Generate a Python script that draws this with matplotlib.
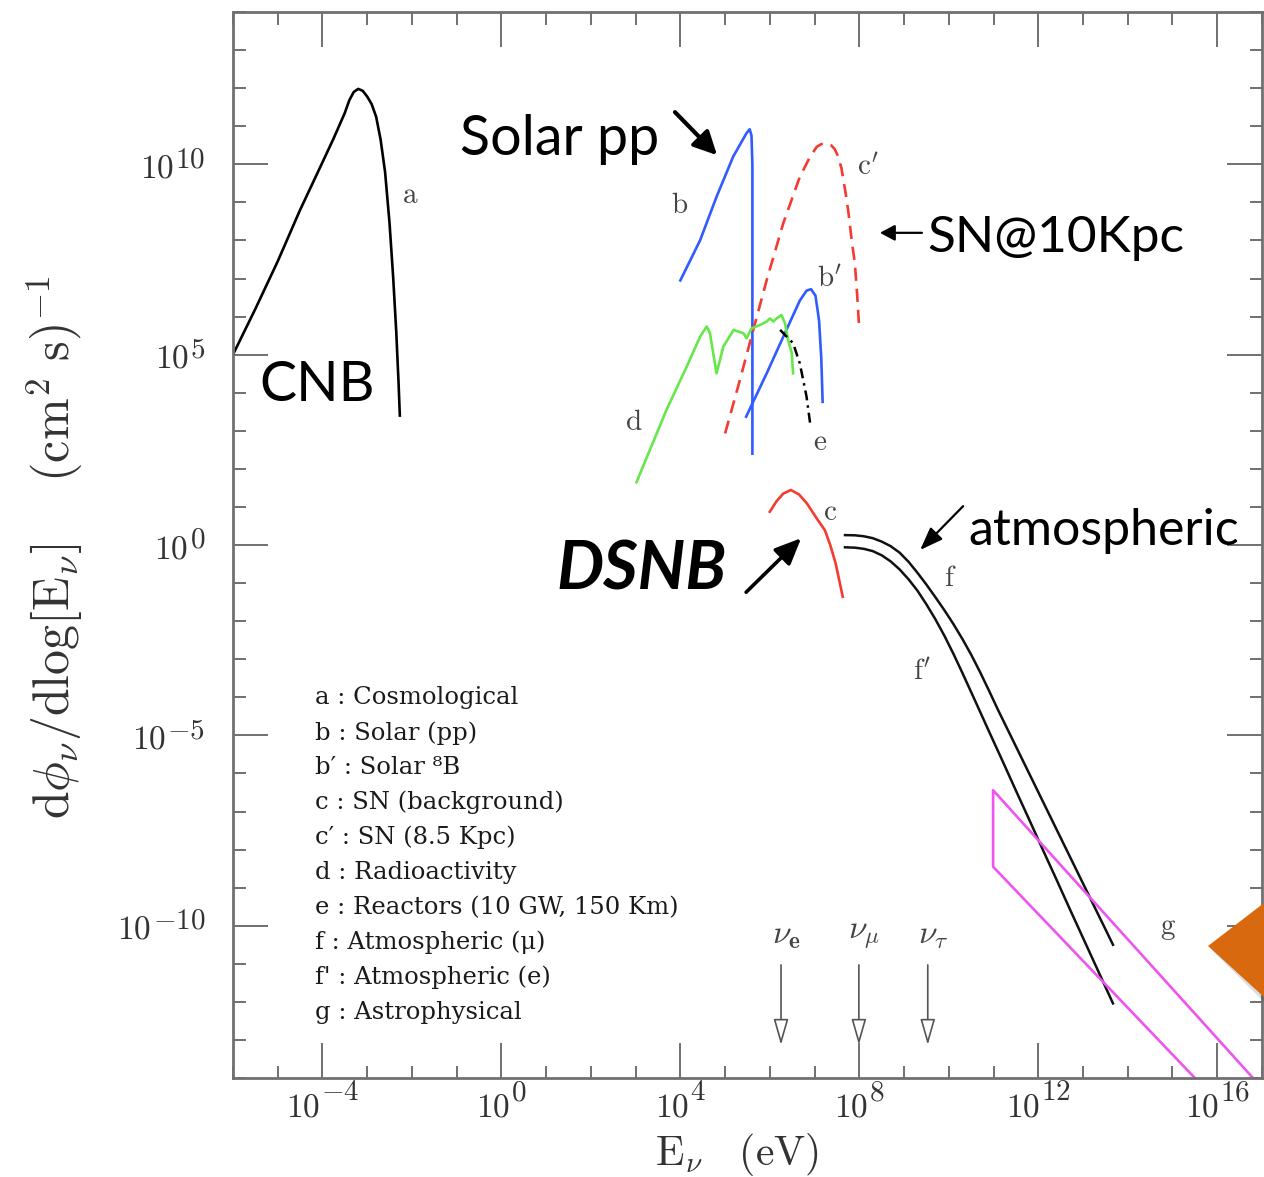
import numpy as np
import matplotlib.pyplot as plt
from matplotlib.patches import Polygon

plt.rcParams['mathtext.fontset'] = 'cm'

# spectra, as log10(E / eV) and log10(flux)
cnb_logE = [-6.0, -5.5, -5.0, -4.5, -4.0, -3.75, -3.5, -3.4, -3.3, -3.2, -3.1, -3.0, -2.9,
            -2.8, -2.7, -2.6, -2.5, -2.42, -2.35, -2.3, -2.27]
cnb_logF = [5.0, 6.2, 7.45, 8.8, 10.05, 10.68, 11.35, 11.68, 11.9, 11.98, 11.93, 11.78, 11.58,
            11.25, 10.65, 9.8, 8.45, 7.05, 5.6, 4.3, 3.4]

pp_logE = [4.0, 4.44, 4.81, 5.18, 5.48, 5.55, 5.59, 5.61, 5.61]
pp_logF = [6.95, 8.0, 9.15, 10.2, 10.82, 10.92, 10.75, 10.0, 2.4]

b8_logE = [5.47, 5.93, 6.37, 6.67, 6.82, 6.92, 7.02, 7.1, 7.15, 7.18]
b8_logF = [3.37, 4.51, 5.65, 6.42, 6.68, 6.72, 6.55, 5.9, 4.9, 3.76]

sn_logE = [5.0, 5.33, 5.63, 5.93, 6.3, 6.67, 6.9, 7.05, 7.15, 7.27, 7.37, 7.45, 7.52, 7.6,
           7.7, 7.76, 7.83, 7.9, 7.95, 8.0]
sn_logF = [2.93, 4.33, 5.65, 6.96, 8.45, 9.67, 10.2, 10.46, 10.53, 10.54, 10.5, 10.4, 10.22,
           9.9, 9.2, 8.71, 8.0, 7.4, 6.6, 5.65]

dsnb_logE = [6.0, 6.15, 6.3, 6.47, 6.65, 6.83, 7.07, 7.23, 7.35, 7.47, 7.63]
dsnb_logF = [0.875, 1.15, 1.35, 1.445, 1.33, 1.09, 0.66, 0.39, 0.0, -0.48, -1.36]

radio_logE = [3.02, 3.69, 4.14, 4.44, 4.59, 4.66, 4.74, 4.81, 4.96, 5.19, 5.41, 5.48,
              5.59, 5.78, 5.93, 6.0, 6.08, 6.15, 6.26, 6.34, 6.41, 6.49, 6.52]
radio_logF = [1.65, 3.55, 4.68, 5.47, 5.74, 5.57, 5.0, 4.51, 5.21, 5.65, 5.56, 5.43,
              5.69, 5.78, 5.87, 5.95, 5.87, 5.95, 6.04, 5.82, 5.38, 5.04, 4.51]

reac_logE = [6.23, 6.52, 6.67, 6.82, 6.9]
reac_logF = [5.65, 5.3, 4.77, 3.9, 3.2]

atm_mu_logE = [7.68, 7.9, 8.1, 8.3, 8.5, 8.7, 8.9, 9.1, 9.3, 9.5, 9.7, 9.9, 10.1, 10.3,
               10.5, 10.7, 10.9, 11.1, 11.4, 11.7, 12.0, 12.3, 12.6, 12.9, 13.2, 13.45, 13.67]
atm_mu_logF = [0.26, 0.255, 0.23, 0.18, 0.09, -0.03, -0.2, -0.44, -0.73, -1.04, -1.37, -1.71,
               -2.07, -2.46, -2.88, -3.34, -3.83, -4.33, -5.05, -5.77, -6.49, -7.21, -7.93,
               -8.65, -9.37, -9.97, -10.5]
atm_e_logE = [7.68, 7.9, 8.1, 8.3, 8.5, 8.7, 8.9, 9.1, 9.3, 9.5, 9.7, 9.9, 10.1, 10.3,
              10.58, 10.9, 11.2, 11.5, 11.8, 12.1, 12.4, 12.7, 13.0, 13.3, 13.67]
atm_e_logF = [-0.06, -0.07, -0.1, -0.16, -0.27, -0.43, -0.64, -0.9, -1.2, -1.56, -1.95, -2.38,
              -2.85, -3.35, -4.07, -4.9, -5.67, -6.45, -7.22, -8.0, -8.77, -9.55, -10.32,
              -11.09, -12.04]

astro_logE = [15.5, 10.99, 10.99, 16.8]
astro_logF = [-14.0, -8.45, -6.44, -14.0]

# detection thresholds (log10 E)
thr_logE = [6.25, 7.99, 9.53]
thr_names = [r'$\nu_\mathbf{e}$', r'$\nu_\mu$', r'$\nu_\tau$']

legend_lines = ['a : Cosmological', 'b : Solar (pp)', 'b\u2032 : Solar \u2078B',
                'c : SN (background)', 'c\u2032 : SN (8.5 Kpc)', 'd : Radioactivity',
                'e : Reactors (10 GW, 150 Km)', 'f : Atmospheric (\u03bc)',
                "f' : Atmospheric (e)", 'g : Astrophysical']

y_major = [-10, -5, 0, 5, 10]
x_major = [-4, 0, 4, 8, 12, 16]

grey = '#707070'
txt = '#333333'

fig = plt.figure(figsize=(12.64, 11.77), dpi=100)
ax = fig.add_axes([0.1843, 0.0841, 0.8141, 0.9057])
ax.set_xscale('log')
ax.set_yscale('log')


def curve(logE, logF, **kw):
    ax.plot(10.0 ** np.array(logE), 10.0 ** np.array(logF), **kw)


lw = 1.9
curve(cnb_logE, cnb_logF, color='k', lw=lw)
curve(pp_logE, pp_logF, color='#2f5bff', lw=lw)
curve(b8_logE, b8_logF, color='#2f5bff', lw=lw)
curve(sn_logE, sn_logF, color='#f43b30', lw=lw, ls=(0, (5, 3)))
curve(dsnb_logE, dsnb_logF, color='#f43b30', lw=lw)
curve(radio_logE, radio_logF, color='#66e84a', lw=lw)
curve(reac_logE, reac_logF, color='k', lw=1.8, ls=(0, (4, 2, 1, 2)))
curve(atm_mu_logE, atm_mu_logF, color='#111111', lw=1.8)
curve(atm_e_logE, atm_e_logF, color='#111111', lw=1.8)
curve(astro_logE, astro_logF, color='#ee55ee', lw=lw)

ax.set_xlim(1e-6, 1e17)
ax.set_ylim(1e-14, 1e14)
ax.set_xticks(10.0 ** np.array(x_major))
ax.set_xticks(10.0 ** np.arange(-6, 18), minor=True)
ax.set_yticks(10.0 ** np.array(y_major))
ax.set_yticks(10.0 ** np.arange(-14, 15), minor=True)
ax.tick_params(which='both', direction='in', top=True, right=True, color=grey,
               labelbottom=False, labelleft=False)
ax.tick_params(which='major', length=25, width=1.4)
ax.tick_params(which='minor', length=9, width=1.4)
for sp in ax.spines.values():
    sp.set_color(grey)
    sp.set_linewidth(2)

# tick labels: "10" plus a large exponent, as in the original
fig.canvas.draw()
rend = fig.canvas.get_renderer()


def wpt(t):
    return t.get_window_extent(rend).width * 72 / fig.dpi


for e in y_major:
    s = ax.annotate(f'${e}$', (0, 10.0 ** e), xycoords=('axes fraction', 'data'),
                    xytext=(-20, -2), textcoords='offset points', ha='right',
                    va='baseline', fontsize=21, color=txt)
    ax.annotate('$10$', (0, 10.0 ** e), xycoords=('axes fraction', 'data'),
                xytext=(-21 - wpt(s), -9.5), textcoords='offset points', ha='right',
                va='baseline', fontsize=24, color=txt)

for e in x_major:
    b = ax.annotate('$10$', (10.0 ** e, 0), xycoords=('data', 'axes fraction'),
                    xytext=(0, -28), textcoords='offset points', ha='left',
                    va='baseline', fontsize=24, color=txt)
    s = ax.annotate(f'${e}$', (10.0 ** e, 0), xycoords=('data', 'axes fraction'),
                    xytext=(0, -16), textcoords='offset points', ha='left',
                    va='baseline', fontsize=21, color=txt)
    wb, ws = wpt(b), wpt(s)
    x0 = -(wb + ws + 1) / 2
    b.xyann = (x0, -28)
    s.xyann = (x0 + wb + 1, -16)

ax.text(0.49, -0.072, r'$\mathrm{E}_\nu\ \ \ (\mathrm{eV})$', transform=ax.transAxes,
        ha='center', va='center', fontsize=30, color=txt)
ax.text(-0.173, 0.498,
        r'$\mathrm{d}\phi_\nu/\mathrm{dlog[E}_\nu\mathrm{]}\quad\ (\mathrm{cm}^2\ \mathrm{s})^{-1}$',
        transform=ax.transAxes, rotation=90, ha='center', va='center', fontsize=36,
        color=txt)

# curve letters
letters = [('a', -2.04, 9.19), ('b', 3.99, 8.93), ("c'", 8.19, 9.9), ("b'", 7.34, 6.96),
           ('d', 2.96, 3.23), ('e', 7.12, 2.71), ('c', 7.34, 0.87), ('f', 10.03, -0.87),
           ("f'", 9.4, -3.36), ('g', 14.9, -10.06)]
for s, lx, ly in letters:
    ax.text(10 ** lx, 10 ** ly, r'$\mathrm{%s}$' % s, ha='center', va='center',
            fontsize=21, color='#444444')

# threshold arrows
for lx, name in zip(thr_logE, thr_names):
    ax.annotate('', xy=(10 ** lx, 10 ** -13.13), xytext=(10 ** lx, 10 ** -11.03),
                arrowprops=dict(arrowstyle='-|>,head_length=0.8,head_width=0.23',
                                mutation_scale=20, fc='white', ec='#555555', lw=1.2,
                                shrinkA=0, shrinkB=0))
    ax.text(10 ** (lx + 0.12), 10 ** -10.24, name, ha='center', va='center',
            fontsize=24, color='#444444')

# legend block
for i, line in enumerate(legend_lines):
    ax.text(0.0797, 0.3565 - i * 0.03274, line, transform=ax.transAxes, ha='left',
            va='center', fontsize=17.5, family='DejaVu Serif', color='#1a1a1a')

# slide annotations
sans = ['Lato', 'DejaVu Sans']
ax.text(10 ** -0.93, 10 ** 10.24, 'Solar pp', fontsize=40, family=sans, va='baseline')
ax.text(10 ** -5.4, 10 ** 3.78, 'CNB', fontsize=40, family=sans, va='baseline')
ax.text(10 ** 9.53, 10 ** 7.7, 'SN@10Kpc', fontsize=37, family=sans, va='baseline')
ax.text(10 ** 10.43, 10 ** 0.0, 'atmospheric', fontsize=36, family=sans, va='baseline')
ax.text(10 ** 1.24, 10 ** -1.18, 'DSNB', fontsize=48, family=sans, va='baseline',
        weight='bold', style='italic')

arrows = [((3.88, 11.37), (4.82, 10.24), 3.0, 0.7, 0.35),
          ((9.40, 8.2), (8.46, 8.2), 1.6, 0.45, 0.24),
          ((5.47, -1.24), (6.70, 0.18), 2.6, 0.8, 0.35),
          ((10.32, 1.02), (9.36, -0.13), 1.6, 0.7, 0.26)]
for (tx, ty), (hx, hy), alw, hl, hw in arrows:
    ax.annotate('', xy=(10 ** hx, 10 ** hy), xytext=(10 ** tx, 10 ** ty),
                arrowprops=dict(arrowstyle=f'-|>,head_length={hl},head_width={hw}',
                                mutation_scale=20, color='k', lw=alw,
                                shrinkA=0, shrinkB=0))

# orange slide marker on the right edge
fig.patches.append(Polygon([(1212 / 1264, 1 - 950 / 1177), (1.0, 1 - 907 / 1177),
                            (1.0, 1 - 1002 / 1177)], closed=True, fc='#00000022',
                           ec='none', transform=fig.transFigure, figure=fig, zorder=9))
fig.patches.append(Polygon([(1208 / 1264, 1 - 946 / 1177), (1.0, 1 - 903 / 1177),
                            (1.0, 1 - 997 / 1177)], closed=True, fc='#d9690f',
                           ec='none', transform=fig.transFigure, figure=fig, zorder=10))

fig.savefig('out.png', dpi=100)
